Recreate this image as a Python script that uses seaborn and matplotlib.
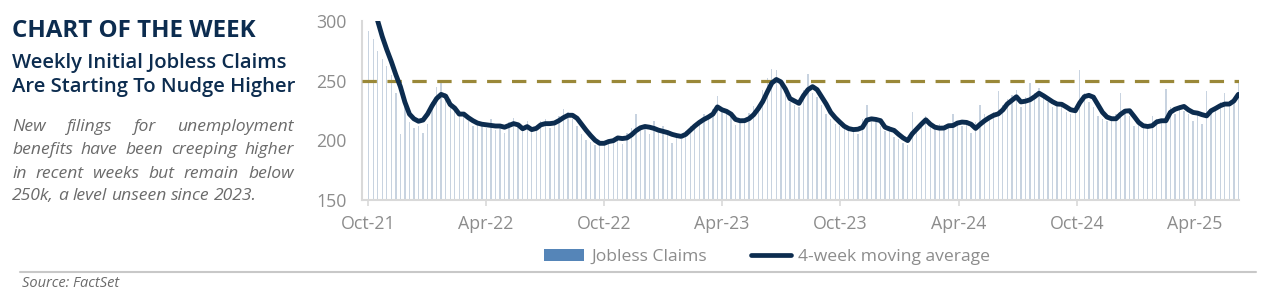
import numpy as np
import pandas as pd
import matplotlib
matplotlib.use("Agg")
import matplotlib.pyplot as plt
import matplotlib.dates as mdates
from matplotlib.patches import Patch
from matplotlib.lines import Line2D
import seaborn as sns

# ---------------- data (thousands) ----------------
week_ending = pd.date_range("2021-10-02", periods=193, freq="7D")

claims = [
    292, 285, 275, 268, 262, 255, 240, 205, 228, 215,
    210, 212, 206, 214, 232, 245, 250, 240, 235, 228,
    225, 220, 216, 212, 214, 212, 210, 218, 209, 213,
    206, 215, 219, 212, 208, 216, 207, 212, 216, 218,
    210, 214, 220, 226, 224, 218, 212, 205, 200, 199,
    196, 197, 198, 200, 202, 203, 197, 206, 210, 222,
    208, 211, 205, 216, 210, 212, 206, 198, 203, 201,
    208, 212, 214, 216, 222, 218, 226, 237, 226, 225,
    220, 213, 217, 216, 223, 229, 230, 242, 252, 260,
    259, 246, 238, 232, 230, 228, 242, 256, 240, 236,
    230, 222, 218, 214, 212, 210, 208, 211, 205, 218,
    230, 216, 218, 212, 208, 212, 203, 201, 198, 196,
    224, 212, 214, 220, 212, 210, 214, 210, 212, 222,
    213, 212, 215, 206, 215, 230, 222, 218, 224, 241,
    230, 235, 238, 242, 228, 236, 248, 240, 244, 236,
    232, 228, 230, 232, 224, 222, 226, 259, 240, 232,
    228, 220, 218, 216, 220, 222, 240, 226, 220, 212,
    213, 210, 214, 220, 218, 216, 243, 228, 222, 230,
    225, 222, 216, 224, 214, 241, 226, 228, 232, 240,
    230, 233, 248,
]

moving_avg_4wk = [
    330, 318, 300, 287, 276, 266, 255, 245, 232, 222,
    218, 216, 217, 222, 229, 235, 238.5, 237, 230, 227,
    222, 222, 219, 216.5, 214.5, 213.5, 213, 212.5, 212, 212,
    211, 212.5, 214, 213, 209.7, 211.5, 209, 210, 213, 214,
    214, 214.5, 216.5, 219, 221, 221, 218.5, 213.5, 208.5, 204,
    200, 197.5, 197.5, 199, 199.7, 202, 201.5, 202, 204.5, 208,
    210.5, 211.6, 211, 210, 208.5, 207.5, 206.5, 205, 204, 203.3,
    205, 208.5, 212, 215, 217.5, 219.5, 222, 228, 225.6, 224.3,
    222, 217.5, 216.4, 216.5, 218.2, 221.5, 226.5, 232.5, 240.5, 248,
    251, 249, 243, 235, 233, 231, 237.5, 242.5, 245, 242.5,
    236.5, 230.5, 223.5, 219, 215.3, 211.8, 209.8, 209, 209.3, 210.8,
    217, 218, 217.5, 216.5, 211, 209.5, 208.3, 205, 202, 199.8,
    205.5, 209.5, 213.5, 217.2, 213.5, 211, 210.2, 210.3, 212.2, 212.4,
    214.5, 215.3, 215, 213.5, 210, 213.5, 216.5, 219, 221, 222.2,
    225.5, 230.5, 233.5, 236.5, 232.2, 232.8, 234, 236.5, 239.5, 237.3,
    234.8, 232.3, 230.4, 230.2, 228, 225.6, 224.8, 231.5, 236.6, 237.7,
    236.2, 229.8, 223.5, 219.5, 218.1, 218.1, 221.8, 224.5, 224.8, 220,
    215, 212.2, 211.6, 212.3, 215.5, 216.4, 216.4, 223.5, 226, 227.3,
    228.4, 225.5, 223.4, 222.8, 221.5, 220.5, 224.8, 226.8, 229, 230.4,
    230.4, 233, 238.5,
]

threshold = 250
y_ticks = [150, 200, 250, 300]
x_tick_dates = ["2021-10-01", "2022-04-01", "2022-10-01", "2023-04-01",
                "2023-10-01", "2024-04-01", "2024-10-01", "2025-04-01"]

title_kicker = "CHART OF THE WEEK"
title_lines = ["Weekly Initial Jobless Claims", "Are Starting To Nudge Higher"]
body_lines = ["New filings for unemployment",
              "benefits have been creeping higher",
              "in recent weeks but remain below",
              "250k, a level unseen since 2023."]
source_text = "Source: FactSet"
legend_labels = ["Jobless Claims", "4-week moving average"]

# ---------------- styling ----------------
sns.set_theme(style="white")
plt.rcParams["font.family"] = ["Open Sans", "DejaVu Sans"]

NAVY = "#0c2c4f"
BAR = "#c8d3e0"
BAR_LEG = "#5585b8"
GOLD = "#9a8838"
GREY_TXT = "#8c8c8c"
BODY_TXT = "#6b6b6b"
AXIS = "#d9d9d9"

W, H = 1267, 292
fig = plt.figure(figsize=(W / 100, H / 100), dpi=100)
ax = fig.add_axes([362 / W, (H - 200) / H, (1239 - 362) / W, (200 - 21) / H])

df = pd.DataFrame({"date": mdates.date2num(week_ending),
                   "claims": claims, "ma": moving_avg_4wk})

sns.barplot(data=df, x="date", y="claims", native_scale=True, color=BAR,
            width=0.3, saturation=1, ax=ax, linewidth=0, errorbar=None)
ax.axhline(threshold, color=GOLD, lw=2.3, dashes=(4.5, 3.3), zorder=3)
sns.lineplot(data=df, x="date", y="ma", color=NAVY, lw=3.5, ax=ax, zorder=4,
             solid_capstyle="round")

x0 = mdates.date2num(pd.Timestamp("2021-10-01")) - 9.3
x1 = mdates.date2num(pd.Timestamp("2025-04-01")) + 68
ax.set_xlim(x0, x1)
ax.set_ylim(150, 300)
ax.set_yticks(y_ticks)
ax.set_xticks(mdates.date2num(pd.to_datetime(x_tick_dates)))
ax.xaxis.set_major_formatter(mdates.DateFormatter("%b-%y"))
ax.set_xlabel("")
ax.set_ylabel("")
for s in ["top", "right"]:
    ax.spines[s].set_visible(False)
for s in ["left", "bottom"]:
    ax.spines[s].set_color(AXIS)
    ax.spines[s].set_linewidth(1.5)
ax.tick_params(axis="x", colors=AXIS, length=4, width=1.2, pad=7,
               labelcolor=GREY_TXT, labelsize=12.8, direction="out", bottom=True)
ax.tick_params(axis="y", length=0, pad=11, labelcolor=GREY_TXT, labelsize=12.8)
ax.grid(False)
ax.set_facecolor("white")

# legend
handles = [Patch(facecolor=BAR_LEG, edgecolor="none"),
           Line2D([0], [0], color=NAVY, lw=3.4)]
fig.legend(handles, legend_labels, loc="center", ncol=2, frameon=False,
           bbox_to_anchor=(767 / W, 1 - 257 / H), fontsize=12.6,
           labelcolor=GREY_TXT, handlelength=2.3, handleheight=0.65,
           handletextpad=0.4, columnspacing=2.5)

# left text block
def fy(py):
    return 1 - py / H

fig.text(12 / W, fy(37), title_kicker, fontsize=17.4, fontweight="bold",
         color=NAVY, va="baseline", ha="left")
fig.text(12 / W, fy(68), title_lines[0], fontsize=14.6, fontweight="semibold",
         color=NAVY, va="baseline", ha="left")
fig.text(12 / W, fy(92), title_lines[1], fontsize=14.6, fontweight="semibold",
         color=NAVY, va="baseline", ha="left")

renderer = fig.canvas.get_renderer()
body_left, body_right = 12, 294
baselines = [131, 154, 177.5, 200]
BODY_FS = 12.6
for li, (line, by) in enumerate(zip(body_lines, baselines)):
    words = line.split(" ")
    objs = [fig.text(0, fy(by), w, fontsize=BODY_FS, style="italic",
                     color=BODY_TXT, va="baseline", ha="left") for w in words]
    widths = [o.get_window_extent(renderer).width for o in objs]
    if li < len(body_lines) - 1 and len(words) > 1:
        gap = (body_right - body_left - sum(widths)) / (len(words) - 1)
    else:
        sp = fig.text(0, 0, "a a", fontsize=BODY_FS, style="italic")
        sp2 = fig.text(0, 0, "aa", fontsize=BODY_FS, style="italic")
        gap = sp.get_window_extent(renderer).width - sp2.get_window_extent(renderer).width
        sp.remove(); sp2.remove()
    x = body_left
    for o, wdt in zip(objs, widths):
        o.set_x(x / W)
        x += wdt + gap

# bottom rule and source
fig.add_artist(Line2D([20 / W, 1256 / W], [fy(272), fy(272)], color="#c8c8c8",
                      lw=1.5, transform=fig.transFigure))
fig.text(22 / W, fy(287), source_text, fontsize=10.5, style="italic",
         color=BODY_TXT, va="baseline", ha="left")

fig.savefig("out.png", dpi=100, facecolor="white")
